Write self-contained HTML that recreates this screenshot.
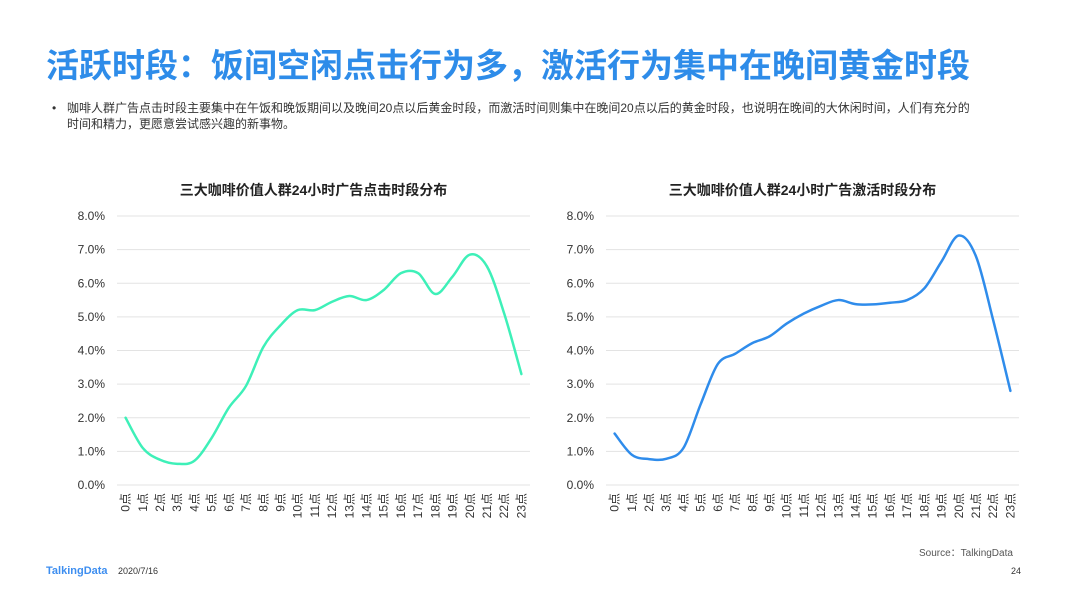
<!DOCTYPE html>
<html><head><meta charset="utf-8"><style>
body{margin:0;width:1066px;height:599px;background:#fff;position:relative;overflow:hidden;font-family:"Liberation Sans","Noto Sans CJK SC",sans-serif;}
.abs{position:absolute;white-space:nowrap;}
</style></head><body>
<div class="abs" style="left:46px;top:46px;font-size:33px;font-weight:bold;color:#2e8ce9;line-height:40px;">活跃时段：饭间空闲点击行为多，激活行为集中在晚间黄金时段</div>
<div class="abs" style="left:52px;top:101px;font-size:12px;color:#333;">•</div>
<div class="abs" style="left:67px;top:100px;font-size:12px;color:#333;line-height:16px;">咖啡人群广告点击时段主要集中在午饭和晚饭期间以及晚间20点以后黄金时段，而激活时间则集中在晚间20点以后的黄金时段，也说明在晚间的大休闲时间，人们有充分的</div>
<div class="abs" style="left:67px;top:116px;font-size:12px;color:#333;line-height:16px;">时间和精力，更愿意尝试感兴趣的新事物。</div>
<svg id="chart" width="1066" height="599" style="position:absolute;left:0;top:0"></svg>
<div class="abs" style="left:919px;top:544px;font-size:10px;color:#555;">Source：TalkingData</div>
<div class="abs" style="left:46px;top:565px;font-size:11px;font-weight:bold;color:#3d8ef0;">TalkingData</div>
<div class="abs" style="left:118px;top:566px;font-size:9px;color:#333;">2020/7/16</div>
<div class="abs" style="left:1011px;top:566px;font-size:9px;color:#333;">24</div>
<script>
const hours = ["0点","1点","2点","3点","4点","5点","6点","7点","8点","9点","10点","11点","12点","13点","14点","15点","16点","17点","18点","19点","20点","21点","22点","23点"];
const yTicks = [0,1,2,3,4,5,6,7,8];
const clickValues = [2.0,1.1,0.75,0.63,0.72,1.4,2.3,2.95,4.1,4.75,5.2,5.2,5.45,5.62,5.5,5.8,6.3,6.3,5.68,6.2,6.85,6.5,5.1,3.3];
const activateValues = [1.53,0.9,0.77,0.78,1.1,2.4,3.6,3.9,4.22,4.42,4.8,5.1,5.33,5.5,5.38,5.37,5.42,5.5,5.85,6.65,7.42,6.8,4.9,2.8];
const svg=document.getElementById('chart');
const NS='http://www.w3.org/2000/svg';
function mk(t,a){const e=document.createElementNS(NS,t);for(const k in a)e.setAttribute(k,a[k]);svg.appendChild(e);return e;}
function drawChart(x0,x1,title,values,color,prefix){
  const yTop=216,yBot=485,maxV=8;
  const y=v=>yBot-(v/maxV)*(yBot-yTop);
  const band=(x1-x0)/hours.length;
  const x=i=>x0+band*(i+0.5);
  const t=mk('text',{x:(x0+x1)/2-10,y:195,'text-anchor':'middle','font-size':14,'font-weight':'bold',fill:'#222'});
  t.textContent=title;
  
  
  yTicks.forEach(v=>{
    const l=mk('line',{x1:x0,x2:x1,y1:y(v),y2:y(v),stroke:'#e3e3e3','stroke-width':1});
    
    
    const tx=mk('text',{x:x0-12,y:y(v)+4,'text-anchor':'end','font-size':12,fill:'#333'});
    tx.textContent=v.toFixed(1)+'%';
    
    
  });
  hours.forEach((h,i)=>{
    const tx=mk('text',{x:0,y:0,'text-anchor':'end','font-size':12,fill:'#333',transform:`translate(${x(i)+4},${yBot+8}) rotate(-90)`});
    tx.textContent=h;
    
    
  });
  const pts=values.map((v,i)=>[x(i),y(v)]);
  let d='M'+pts[0][0]+','+pts[0][1];
  for(let i=0;i<pts.length-1;i++){
    const p0=pts[Math.max(0,i-1)],p1=pts[i],p2=pts[i+1],p3=pts[Math.min(pts.length-1,i+2)];
    const c1=[p1[0]+(p2[0]-p0[0])/6,p1[1]+(p2[1]-p0[1])/6];
    const c2=[p2[0]-(p3[0]-p1[0])/6,p2[1]-(p3[1]-p1[1])/6];
    d+=`C${c1[0]},${c1[1]} ${c2[0]},${c2[1]} ${p2[0]},${p2[1]}`;
  }
  const p=mk('path',{d:d,fill:'none',stroke:color,'stroke-width':2.5,'stroke-linecap':'round'});
  
  
}
drawChart(117,530,'三大咖啡价值人群24小时广告点击时段分布',clickValues,'#3ef0b8','click');
drawChart(606,1019,'三大咖啡价值人群24小时广告激活时段分布',activateValues,'#2f8ceb','activate');
</script>
</body></html>
